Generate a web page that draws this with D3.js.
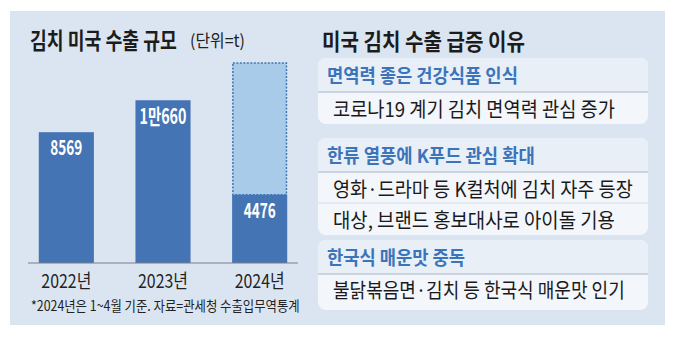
<!DOCTYPE html>
<html>
<head>
<meta charset="utf-8">
<script src="https://cdn.jsdelivr.net/npm/d3@7"></script>
<style>
  body { margin: 0; background: #fff; }
  svg text { font-family: "Noto Sans CJK KR", "Noto Sans", sans-serif; }
</style>
</head>
<body>
<div id="chart"></div>
<script>
// data
const years = ["2022년", "2023년", "2024년"]
const exportsT = [8569, 10660, 4476]
const barLabels = ["8569", "1만660", "4476"]
const projected2024 = 13100   // dashed outline box for 2024 (estimate)
const reasonHeads = ["면역력 좋은 건강식품 인식", "한류 열풍에 K푸드 관심 확대", "한국식 매운맛 중독"]
const reasonItems = [
    ["코로나19 계기 김치 면역력 관심 증가"],
    ["영화·드라마 등 K컬처에 김치 자주 등장", "대상, 브랜드 홍보대사로 아이돌 기용"],
    ["불닭볶음면·김치 등 한국식 매운맛 인기"]
]

const W = 676, H = 362
const blue = "#4574b4"
const headBlue = "#3b74ba"

const svg = d3.select("#chart").append("svg")
    .attr("width", W).attr("height", H)

// background panel
svg.append("rect").attr("x", 10).attr("y", 11).attr("width", 655).attr("height", 314)
    .attr("fill", "#dbe5f1")

// helper for condensed text: squeeze horizontally to a target width
const txt = (g, x, y, s, size, width, opts = {}) => {
    const holder = g.append("g").attr("transform", `translate(${x},${y})`)
    const t = holder.append("text")
        .attr("x", 0).attr("y", 0)
        .attr("dominant-baseline", "central")
        .attr("font-size", size)
        .attr("font-weight", opts.bold ? 700 : 400)
        .attr("fill", opts.fill || "#1a1a1a")
        .attr("text-anchor", opts.anchor || "start")
        .text(s)
    if (width) {
        const k = width / t.node().getComputedTextLength()
        holder.attr("transform", `translate(${x},${y}) scale(${k},1)`)
    }
    return t
}

// ---- left: bar chart ----
txt(svg, 30, 39, "김치 미국 수출 규모", 22.5, 147, { bold: true, fill: "#1c1c1c" })
txt(svg, 190, 40, "(단위=t)", 17, 55, { fill: "#222" })

const xScale = d3.scaleBand().domain(years).range([18, 308])
    .paddingInner(0.43).paddingOuter(0.215)
const yScale = d3.scaleLinear().domain([0, projected2024]).range([263, 63])

const bars = svg.append("g")

// dashed box for 2024
bars.append("rect")
    .attr("x", xScale(years[2]) + 0.75)
    .attr("y", yScale(projected2024))
    .attr("width", xScale.bandwidth() - 1.5)
    .attr("height", yScale(exportsT[2]) - yScale(projected2024))
    .attr("fill", "#a7cbe8")
    .attr("stroke", "#3f77b7")
    .attr("stroke-width", 1.5)
    .attr("stroke-dasharray", "2,1.5")

bars.selectAll(".bar").data(exportsT).enter().append("rect")
    .attr("class", "bar")
    .attr("x", (d, i) => xScale(years[i]))
    .attr("y", d => yScale(d))
    .attr("width", xScale.bandwidth())
    .attr("height", d => yScale(0) - yScale(d))
    .attr("fill", blue)

const labelW = [32, 47, 32]
barLabels.forEach((s, i) => {
    txt(svg, xScale(years[i]) + xScale.bandwidth() / 2, yScale(exportsT[i]) + 14, s, 21, labelW[i],
        { bold: true, fill: "#fff", anchor: "middle" })
})

// baseline
svg.append("line").attr("x1", 28).attr("x2", 298)
    .attr("y1", yScale(0)).attr("y2", yScale(0))
    .attr("stroke", "#7a7f86").attr("stroke-width", 1)

years.forEach(y => {
    txt(svg, xScale(y) + xScale.bandwidth() / 2, 280, y, 19, 50, { anchor: "middle", fill: "#222" })
})

txt(svg, 31, 305, "*2024년은 1~4월 기준.  자료=관세청 수출입무역통계", 14, 269, { fill: "#222" })

// ---- right: reasons ----
txt(svg, 322, 40, "미국 김치 수출 급증 이유", 22.5, 203, { bold: true, fill: "#1c1c1c" })

const boxTops = [58, 138, 240]
const headH = 34, rowH = 31
const headW = [191, 208, 138]
const itemW = [[282], [300, 282], [292]]
const bx = 318, bw = 330

reasonHeads.forEach((h, i) => {
    const top = boxTops[i]
    const n = reasonItems[i].length
    const g = svg.append("g")
    const totalH = headH + n * rowH + (i === 2 ? 5 : 1)
    g.append("rect").attr("x", bx).attr("y", top).attr("width", bw).attr("height", totalH)
        .attr("rx", 8).attr("fill", "#f3f6fb")
    // header band
    g.append("path")
        .attr("d", `M${bx},${top + headH} V${top + 8} Q${bx},${top} ${bx + 8},${top} H${bx + bw - 8} Q${bx + bw},${top} ${bx + bw},${top + 8} V${top + headH} Z`)
        .attr("fill", "#e9eff7")
    g.append("line").attr("x1", bx).attr("x2", bx + bw)
        .attr("y1", top + headH).attr("y2", top + headH)
        .attr("stroke", "#bfc9d6").attr("stroke-width", 1.5)
    txt(g, 327, top + 17, h, 19, headW[i], { bold: true, fill: headBlue })
    reasonItems[i].forEach((s, j) => {
        const ry = top + headH + j * rowH
        if (j > 0) g.append("line").attr("x1", bx).attr("x2", bx + bw)
            .attr("y1", ry).attr("y2", ry).attr("stroke", "#d3dbe6").attr("stroke-width", 1)
        txt(g, 333, ry + 16, s, 20.5, itemW[i][j], { fill: "#1a1a1a" })
    })
})
</script>
</body>
</html>
